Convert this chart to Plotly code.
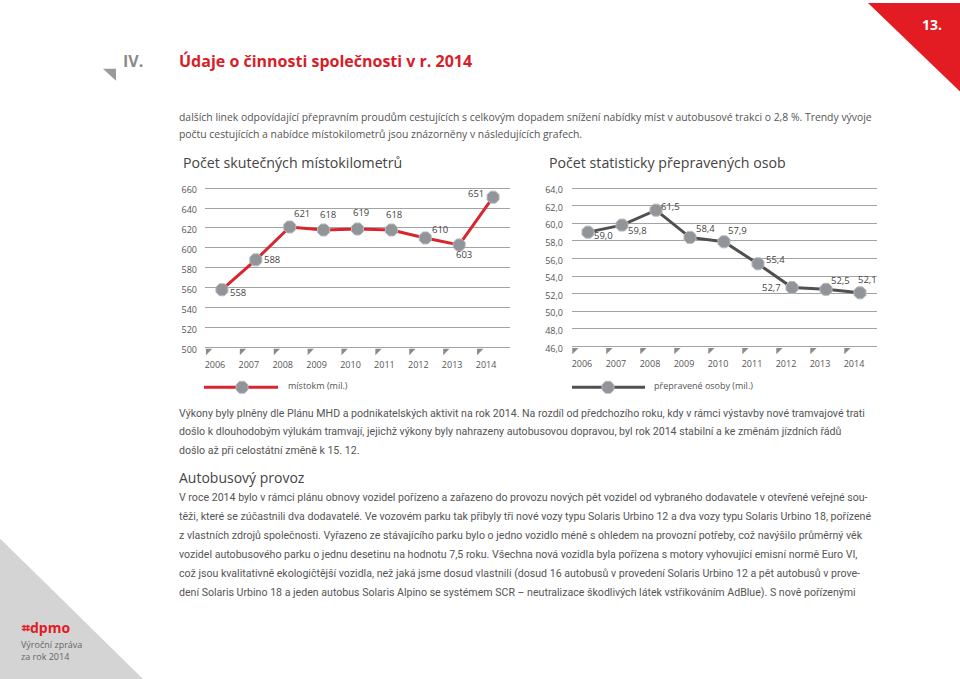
import math
import plotly.graph_objects as go

# ---------------- data ----------------
years = ["2006", "2007", "2008", "2009", "2010", "2011", "2012", "2013", "2014"]
mistokm = [558, 588, 621, 618, 619, 618, 610, 603, 651]
osoby = [59.0, 59.8, 61.5, 58.4, 57.9, 55.4, 52.7, 52.5, 52.1]
left_ticks = [500, 520, 540, 560, 580, 600, 620, 640, 660]
right_ticks = [46, 48, 50, 52, 54, 56, 58, 60, 62, 64]

# label offsets in pixels (style only)
mistokm_off = [(16, 5), (16, 2), (12, -12), (4, -13), (3, -14), (3, -13), (15, -6), (5, 12), (-17, -2)]
osoby_off = [(16, 5), (16, 7), (15, -2), (16, -7), (14, -9), (18, -2), (-20, 2), (14, -7), (7, -11)]

W, H = 960, 679
FONT = "Open Sans"
BODY = "Roboto"
RED = "#d7262d"
GRID = "#a3a3a3"
MARK = "#919498"
MARK_LINE = "#b9bcbf"


def px(x):
    return x / W


def py(y):
    return 1 - y / H


fig = go.Figure()
idx = list(range(len(years)))

marker_style = dict(symbol="octagon", size=13, color=MARK, line=dict(color=MARK_LINE, width=1))

# left chart
fig.add_trace(go.Scatter(
    x=idx, y=mistokm, mode="lines+markers",
    line=dict(color=RED, width=3), marker=marker_style,
    cliponaxis=False, xaxis="x", yaxis="y", showlegend=False, hoverinfo="skip"))
fig.add_trace(go.Scatter(
    x=[i - 0.41 for i in idx], y=[left_ticks[0] - 3.5] * len(idx), mode="markers",
    marker=dict(symbol="triangle-nw", size=7, color="#8a8a8a", line=dict(width=0)),
    cliponaxis=False, xaxis="x", yaxis="y", showlegend=False, hoverinfo="skip"))

# right chart
fig.add_trace(go.Scatter(
    x=idx, y=osoby, mode="lines+markers",
    line=dict(color="#505050", width=3), marker=marker_style,
    cliponaxis=False, xaxis="x2", yaxis="y2", showlegend=False, hoverinfo="skip"))
fig.add_trace(go.Scatter(
    x=[i - 0.40 for i in idx], y=[right_ticks[0] - 0.4] * len(idx), mode="markers",
    marker=dict(symbol="triangle-nw", size=7, color="#8a8a8a", line=dict(width=0)),
    cliponaxis=False, xaxis="x2", yaxis="y2", showlegend=False, hoverinfo="skip"))

axis_font = dict(family=FONT, size=9, color="#555")
fig.update_layout(
    width=W, height=H, margin=dict(l=0, r=0, t=0, b=0),
    paper_bgcolor="white", plot_bgcolor="white",
    separators=", ",
    xaxis=dict(domain=[px(205), px(510)], range=[-0.5, 8.5], tickvals=idx, ticktext=years,
               showgrid=False, zeroline=False, showline=False, tickfont=axis_font,
               ticklabelshift=-7, ticklabelstandoff=3),
    yaxis=dict(domain=[py(354), py(184)], range=[492, 662], tickvals=left_ticks,
               showgrid=True, gridcolor=GRID, gridwidth=1, zeroline=False, showline=False,
               tickfont=axis_font, ticklabelstandoff=7, ticklabelshift=2),
    xaxis2=dict(domain=[px(572), px(877)], range=[-0.47, 8.5], tickvals=idx, ticktext=years,
                showgrid=False, zeroline=False, showline=False, tickfont=axis_font,
                ticklabelshift=-6, ticklabelstandoff=3, anchor="y2"),
    yaxis2=dict(domain=[py(353.0), py(184.2)], range=[45.1, 64.2], tickvals=right_ticks,
                tickformat=".1f", showgrid=True, gridcolor=GRID, gridwidth=1, zeroline=False,
                showline=False, tickfont=axis_font, ticklabelstandoff=8, ticklabelshift=2,
                anchor="x2"),
)

shapes = []
shapes.append(dict(type="path", xref="paper", yref="paper", line=dict(width=0), fillcolor="#e31b23",
                   path=f"M {px(868)} {py(0)} L {px(960)} {py(0)} L {px(960)} {py(89)} Z"))
shapes.append(dict(type="path", xref="paper", yref="paper", line=dict(width=0), fillcolor="#9a9a9a",
                   path=f"M {px(103)} {py(66)} L {px(116)} {py(66)} L {px(116)} {py(78)} Z"))
shapes.append(dict(type="path", xref="paper", yref="paper", line=dict(width=0), fillcolor="#d4d4d4",
                   path=f"M {px(0)} {py(538)} L {px(0)} {py(679)} L {px(143)} {py(679)} Z"))


def legend_sample(x0, x1, xm, y, color):
    shapes.append(dict(type="line", xref="paper", yref="paper", x0=px(x0), x1=px(x1), y0=py(y), y1=py(y),
                       line=dict(color=color, width=3)))
    r = 6.5
    pts = [(xm + r * math.cos(math.radians(a)), y + r * math.sin(math.radians(a)))
           for a in range(int(22.5 * 10), int(22.5 * 10) + 3600, 450)]
    pts = [(xm + r * math.cos(math.radians(a / 10)), y + r * math.sin(math.radians(a / 10)))
           for a in range(225, 225 + 3600, 450)]
    path = "M " + " L ".join(f"{px(a)} {py(b)}" for a, b in pts) + " Z"
    shapes.append(dict(type="path", xref="paper", yref="paper", fillcolor=MARK,
                       line=dict(color=MARK_LINE, width=1), path=path))


legend_sample(204, 278, 242, 386, RED)
legend_sample(572, 645, 608, 386, "#505050")
fig.update_layout(shapes=shapes)

ann = []
LABEL_SIZE = 9.5

# data labels, anchored to data coordinates
for i, v in enumerate(mistokm):
    dx, dy = mistokm_off[i]
    ann.append(dict(x=i, y=v, xref="x", yref="y", text=str(v), showarrow=False,
                    xshift=dx, yshift=-dy + 2, font=dict(family=FONT, size=LABEL_SIZE, color="#444")))
for i, v in enumerate(osoby):
    dx, dy = osoby_off[i]
    ann.append(dict(x=i, y=v, xref="x2", yref="y2", text=f"{v:.1f}".replace(".", ","), showarrow=False,
                    xshift=dx, yshift=-dy + 2, font=dict(family=FONT, size=LABEL_SIZE, color="#444")))


def text(x, y, s, size=11, color="#555", family=FONT, bold=False, anchor="left"):
    if bold:
        s = f"<b>{s}</b>"
    ann.append(dict(x=px(x), y=py(y), xref="paper", yref="paper", text=s, showarrow=False,
                    xanchor=anchor, yanchor="middle", yshift=round(size * 0.22),
                    font=dict(family=family, size=size, color=color)))


text(932, 25, "13.", size=14, color="white", bold=True, anchor="center")
text(121, 62, "IV.", size=16, color="#8a8a8a", bold=True)
text(177, 62, "Údaje o činnosti společnosti v r. 2014", size=16, color="#d71e28", bold=True)
text(177, 117, "dalších linek odpovídající přepravním proudům cestujících s celkovým dopadem snížení nabídky míst v autobusové trakci o 2,8 %. Trendy vývoje", size=10.4)
text(177, 134, "počtu cestujících a nabídce místokilometrů jsou znázorněny v následujících grafech.", size=10.4)
text(181, 163, "Počet skutečných místokilometrů", size=14.2, color="#444")
text(547, 163, "Počet statisticky přepravených osob", size=14.2, color="#444")
text(286, 386, "místokm (mil.)", size=9, color="#555")
text(652, 386, "přepravené osoby (mil.)", size=9, color="#555")

p2 = [
    "Výkony byly plněny dle Plánu MHD a podnikatelských aktivit na rok 2014. Na rozdíl od předchozího roku, kdy v rámci výstavby nové tramvajové trati",
    "došlo k dlouhodobým výlukám tramvají, jejichž výkony byly nahrazeny autobusovou dopravou, byl rok 2014 stabilní a ke změnám jízdních řádů",
    "došlo až při celostátní změně k 15. 12.",
]
for i, s in enumerate(p2):
    text(177, 414 + i * 18.6, s, size=10.6, family=BODY)

text(177, 480, "Autobusový provoz", size=14, color="#444")

p3 = [
    "V roce 2014 bylo v rámci plánu obnovy vozidel pořízeno a zařazeno do provozu nových pět vozidel od vybraného dodavatele v otevřené veřejné sou-",
    "těži, které se zúčastnili dva dodavatelé. Ve vozovém parku tak přibyly tři nové vozy typu Solaris Urbino 12 a dva vozy typu Solaris Urbino 18, pořízené",
    "z vlastních zdrojů společnosti. Vyřazeno ze stávajícího parku bylo o jedno vozidlo méně s ohledem na provozní potřeby, což navýšilo průměrný věk",
    "vozidel autobusového parku o jednu desetinu na hodnotu 7,5 roku. Všechna nová vozidla byla pořízena s motory vyhovující emisní normě Euro VI,",
    "což jsou kvalitativně ekologičtější vozidla, než jaká jsme dosud vlastnili (dosud 16 autobusů v provedení Solaris Urbino 12 a pět autobusů v prove-",
    "dení Solaris Urbino 18 a jeden autobus Solaris Alpino se systémem SCR – neutralizace škodlivých látek vstřikováním AdBlue). S nově pořízenými",
]
for i, s in enumerate(p3):
    text(177, 499 + i * 19.1, s, size=10.6, family=BODY)

text(19, 630, "⌗dpmo", size=14, color="#e31b23", bold=True)
text(19, 646, "Výroční zpráva", size=9, color="#666")
text(19, 658, "za rok 2014", size=9, color="#666")

fig.update_layout(annotations=ann)

fig.write_html("out.html", config={"displayModeBar": False},
               post_script="document.body.style.margin='0';")
